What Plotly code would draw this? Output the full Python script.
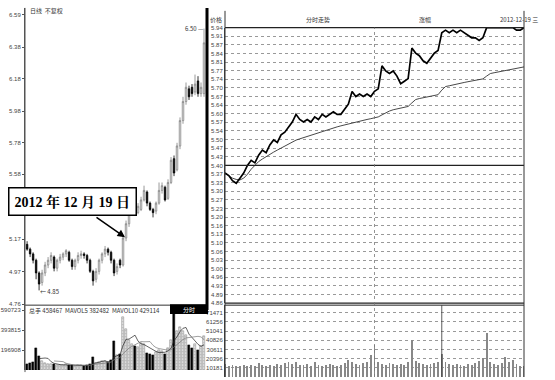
import plotly.graph_objects as go
import pandas as pd

# ---------------- Left: daily candles ----------------
day_idx = list(range(60))
opens = [5.14, 5.11, 5.08, 5.04, 4.96, 4.90, 4.96, 5.01, 5.04, 5.06,
         4.99, 5.04, 5.06, 5.08, 5.09, 5.04, 5.00, 5.04, 5.07, 5.08,
         5.07, 5.04, 4.97, 4.92, 4.97, 5.04, 5.08, 5.11, 5.09, 5.04,
         4.97, 5.04, 5.01, 5.18, 5.27, 5.35, 5.37, 5.34, 5.36, 5.42,
         5.47, 5.40, 5.36, 5.35, 5.40, 5.48, 5.50, 5.43, 5.53, 5.68,
         5.61, 5.76, 5.92, 6.04, 6.12, 6.13, 6.10, 6.17, 6.09, 6.09]
highs = [5.16, 5.12, 5.09, 5.05, 4.97, 4.98, 5.03, 5.06, 5.09, 5.07,
         5.05, 5.08, 5.09, 5.11, 5.10, 5.05, 5.05, 5.09, 5.10, 5.09,
         5.08, 5.05, 4.98, 4.99, 5.05, 5.09, 5.13, 5.12, 5.10, 5.05,
         5.02, 5.05, 5.19, 5.29, 5.37, 5.40, 5.38, 5.40, 5.44, 5.51,
         5.48, 5.41, 5.37, 5.41, 5.53, 5.53, 5.51, 5.55, 5.69, 5.70,
         5.78, 5.94, 6.07, 6.16, 6.14, 6.15, 6.21, 6.20, 6.16, 6.50]
lows = [5.10, 5.06, 5.02, 4.92, 4.85, 4.88, 4.94, 4.99, 5.02, 4.97,
        4.97, 5.02, 5.04, 5.06, 5.03, 4.98, 4.98, 5.02, 5.05, 5.05,
        5.02, 4.96, 4.88, 4.90, 4.95, 5.02, 5.06, 5.07, 5.02, 4.94,
        4.95, 4.99, 5.00, 5.16, 5.25, 5.33, 5.32, 5.33, 5.35, 5.41,
        5.38, 5.35, 5.31, 5.33, 5.39, 5.46, 5.41, 5.42, 5.52, 5.57,
        5.60, 5.74, 5.90, 6.02, 6.05, 6.07, 6.08, 6.07, 6.07, 6.07]
closes = [5.11, 5.08, 5.04, 4.96, 4.89, 4.96, 5.01, 5.04, 5.07, 4.99,
          5.04, 5.06, 5.08, 5.10, 5.04, 5.00, 5.04, 5.07, 5.08, 5.07,
          5.04, 4.97, 4.91, 4.97, 5.04, 5.08, 5.11, 5.09, 5.04, 4.96,
          5.00, 5.01, 5.18, 5.27, 5.35, 5.37, 5.34, 5.38, 5.42, 5.48,
          5.40, 5.36, 5.34, 5.40, 5.48, 5.51, 5.42, 5.53, 5.67, 5.59,
          5.76, 5.92, 6.04, 6.13, 6.07, 6.09, 6.15, 6.09, 6.13, 6.41]
day_vols = [60000, 70000, 80000, 216000, 140000, 90000, 70000, 60000, 55000, 60000,
            50000, 45000, 50000, 55000, 45000, 50000, 40000, 45000, 50000, 40000,
            45000, 60000, 130000, 70000, 80000, 90000, 85000, 80000, 100000, 285000,
            150000, 160000, 520000, 400000, 300000, 260000, 240000, 230000, 270000, 260000,
            170000, 160000, 150000, 180000, 200000, 190000, 160000, 220000, 300000, 580000,
            380000, 420000, 380000, 340000, 250000, 220000, 260000, 200000, 240000, 330000]
# the 5.38 label is hidden behind the date callout in the reference
left_price_ticks = [6.587, 6.382, 6.184, 5.979, 5.780, 5.582, 5.173, 4.968, 4.763]
left_price_labels = ["6.59", "6.38", "6.18", "5.98", "5.78", "5.58", "5.17", "4.97", "4.76"]
left_vol_ticks = [196908, 393815, 590723]
left_vol_labels = ["196908", "393815", "590723"]

# ---------------- Right: intraday (3-minute samples) ----------------
minutes = list(range(0, 241, 3))
intraday_price = [5.37, 5.36, 5.34, 5.33, 5.35, 5.37, 5.40, 5.42, 5.41, 5.44,
                  5.46, 5.45, 5.48, 5.50, 5.49, 5.52, 5.53, 5.55, 5.57, 5.60,
                  5.58, 5.57, 5.58, 5.57, 5.59, 5.58, 5.60, 5.59, 5.60, 5.61,
                  5.60, 5.60, 5.62, 5.64, 5.69, 5.67, 5.68, 5.67, 5.68, 5.67,
                  5.69, 5.70, 5.79, 5.77, 5.76, 5.77, 5.75, 5.72, 5.73, 5.74,
                  5.86, 5.84, 5.83, 5.81, 5.80, 5.82, 5.84, 5.85, 5.92, 5.93,
                  5.92, 5.93, 5.92, 5.93, 5.92, 5.91, 5.90, 5.90, 5.89, 5.90,
                  5.94, 5.94, 5.94, 5.94, 5.94, 5.94, 5.94, 5.94, 5.93, 5.93, 5.94]
intraday_avg = [5.37, 5.36, 5.35, 5.345, 5.343, 5.35, 5.365, 5.385, 5.40, 5.415,
                5.425, 5.435, 5.445, 5.452, 5.46, 5.468, 5.476, 5.484, 5.492, 5.499,
                5.504, 5.509, 5.514, 5.519, 5.524, 5.529, 5.534, 5.539, 5.543, 5.547,
                5.551, 5.555, 5.559, 5.563, 5.567, 5.571, 5.574, 5.577, 5.58, 5.583,
                5.586, 5.59, 5.598, 5.606, 5.613, 5.618, 5.622, 5.625, 5.628, 5.631,
                5.645, 5.658, 5.662, 5.665, 5.668, 5.671, 5.674, 5.677, 5.695, 5.709,
                5.712, 5.716, 5.719, 5.722, 5.725, 5.728, 5.73, 5.733, 5.736, 5.739,
                5.75, 5.76, 5.763, 5.766, 5.768, 5.771, 5.774, 5.777, 5.78, 5.783, 5.786]
intraday_vol = [14000, 12500, 13000, 12000, 12500, 13500, 12000, 13000, 12500, 15000,
                13000, 12000, 13500, 12500, 14000, 13000, 15500, 17000, 14500, 16000,
                13500, 13000, 14000, 12500, 16000, 13500, 12500, 13000, 14500, 13000,
                12500, 13500, 15000, 19000, 16500, 14000, 13500, 15000, 17000, 24000,
                36000, 16000, 14500, 13500, 15000, 14000, 13000, 14500, 13500, 17000,
                40500, 18000, 15000, 14000, 13500, 14500, 15500, 17000, 25000, 16000,
                14500, 13500, 14000, 13000, 12500, 14000, 13500, 15000, 17500, 21000,
                49000, 17000, 14000, 13000, 15000, 22000, 16000, 19000, 14000, 12500, 12000]
prev_close = 5.40
price_labels = ["5.94", "5.91", "5.87", "5.84", "5.81", "5.77", "5.74", "5.70", "5.67", "5.64",
                "5.60", "5.57", "5.54", "5.50", "5.47", "5.43", "5.40", "5.37", "5.33", "5.30",
                "5.27", "5.23", "5.20", "5.16", "5.13", "5.10", "5.06", "5.03", "5.00", "4.96",
                "4.93", "4.89", "4.86"]
pct_labels = ["10.00%", "9.38%", "8.75%", "8.13%", "7.50%", "6.88%", "6.25%", "5.63%", "5.00%",
              "4.38%", "3.75%", "3.13%", "2.50%", "1.88%", "1.25%", "0.63%", "0.00%",
              "-0.63%", "-1.25%", "-1.88%", "-2.50%", "-3.13%", "-3.75%", "-4.38%", "-5.00%",
              "-5.63%", "-6.25%", "-6.88%", "-7.50%", "-8.13%", "-8.75%", "-9.38%", "-10.00%"]
right_vol_ticks = [71471, 61256, 51041, 40826, 30611, 20396, 10181]
right_vol_labels = ["71471", "61256", "51041", "40826", "30611", "20396", "10181"]

# ---------------- geometry helpers ----------------
W, H = 555, 380
def px(x):
    return x / W
def py(y):
    return (H - y) / H

step = 0.03375
price_tickvals = [prev_close + k * step for k in range(16, -17, -1)]
pct_tickvals = [k * 0.625 for k in range(16, -17, -1)]

TICKFONT = dict(family="Liberation Sans, Arial", size=6, color="#444")

fig = go.Figure()

# left candles
fig.add_trace(go.Candlestick(
    x=day_idx, open=opens, high=highs, low=lows, close=closes,
    increasing=dict(line=dict(color="#808080", width=0.8), fillcolor="white"),
    decreasing=dict(line=dict(color="black", width=0.8), fillcolor="black"),
    whiskerwidth=0, xaxis="x", yaxis="y", showlegend=False))

up_x = [i for i in day_idx if closes[i] >= opens[i]]
dn_x = [i for i in day_idx if closes[i] < opens[i]]
fig.add_trace(go.Bar(x=up_x, y=[day_vols[i] for i in up_x], xaxis="x2", yaxis="y2",
                     marker=dict(color="white", line=dict(color="#888", width=0.6),
                                 pattern=dict(shape=".", fgcolor="#888", size=3, solidity=0.4)),
                     width=0.75, showlegend=False))
fig.add_trace(go.Bar(x=dn_x, y=[day_vols[i] for i in dn_x], xaxis="x2", yaxis="y2",
                     marker=dict(color="black", line=dict(color="black", width=0.5)),
                     width=0.75, showlegend=False))
vs = pd.Series(day_vols)
fig.add_trace(go.Scatter(x=day_idx, y=vs.rolling(5).mean(), mode="lines", xaxis="x2", yaxis="y2",
                         line=dict(color="#222", width=0.7), showlegend=False))
fig.add_trace(go.Scatter(x=day_idx, y=vs.rolling(10).mean(), mode="lines", xaxis="x2", yaxis="y2",
                         line=dict(color="#777", width=0.7), showlegend=False))

# right intraday
fig.add_trace(go.Scatter(x=minutes, y=intraday_avg, mode="lines", xaxis="x3", yaxis="y3",
                         line=dict(color="#333", width=0.9), showlegend=False))
fig.add_trace(go.Scatter(x=minutes, y=intraday_price, mode="lines", xaxis="x3", yaxis="y3",
                         line=dict(color="black", width=1.7), showlegend=False))
fig.add_trace(go.Bar(x=minutes, y=intraday_vol, xaxis="x4", yaxis="y5",
                     marker=dict(color="#888", line=dict(width=0)), width=0.7, showlegend=False))

left_dom = [px(25), px(207)]
right_dom = [px(225), px(524)]

fig.update_layout(
    width=W, height=H, margin=dict(l=0, r=0, t=0, b=0),
    paper_bgcolor="white", plot_bgcolor="white", bargap=0,
    xaxis=dict(domain=left_dom, range=[-0.7, 60], anchor="y", visible=False,
               rangeslider=dict(visible=False)),
    yaxis=dict(domain=[py(307), py(5)], range=[4.757, 6.630], anchor="x",
               tickvals=left_price_ticks, ticktext=left_price_labels, tickfont=TICKFONT,
               showgrid=False, zeroline=False, showline=True, linecolor="#555", linewidth=1,
               ticks="outside", ticklen=2, tickcolor="#555"),
    xaxis2=dict(domain=left_dom, range=[-0.7, 60], anchor="y2", visible=False, matches="x"),
    yaxis2=dict(domain=[py(373), py(307)], range=[0, 640000], anchor="x2",
                tickvals=left_vol_ticks, ticktext=left_vol_labels, tickfont=TICKFONT,
                showgrid=False, zeroline=False, showline=True, linecolor="#555", linewidth=1,
                ticks="outside", ticklen=2, tickcolor="#555"),
    xaxis3=dict(domain=right_dom, range=[0, 240], anchor="y3", visible=False),
    yaxis3=dict(domain=[py(305), py(25)], range=[4.86, 5.94], anchor="x3",
                tickvals=price_tickvals, ticktext=price_labels, tickfont=TICKFONT,
                showgrid=True, gridcolor="#999", griddash="dot", gridwidth=0.6,
                zeroline=False, showline=True, linecolor="#444", linewidth=1),
    yaxis4=dict(overlaying="y3", side="right", anchor="x3", range=[-10, 10],
                tickvals=pct_tickvals, ticktext=pct_labels, tickfont=TICKFONT,
                showgrid=False, zeroline=False, showline=False),
    xaxis4=dict(domain=right_dom, range=[0, 240], anchor="y5", visible=False),
    yaxis5=dict(domain=[0, py(307)], range=[0, 80000], anchor="x4",
                tickvals=right_vol_ticks, ticktext=right_vol_labels, tickfont=TICKFONT,
                showgrid=True, gridcolor="#999", griddash="dot", gridwidth=0.6,
                zeroline=False, showline=True, linecolor="#444", linewidth=1),
)

shapes = []
# left panel borders
shapes.append(dict(type="line", xref="paper", yref="paper", x0=px(25), x1=px(207), y0=py(307), y1=py(307),
                   line=dict(color="#333", width=1)))
shapes.append(dict(type="line", xref="paper", yref="paper", x0=px(207), x1=px(207), y0=py(5), y1=py(312),
                   line=dict(color="black", width=3)))
shapes.append(dict(type="line", xref="paper", yref="paper", x0=px(25), x1=px(25), y0=py(5), y1=py(375),
                   line=dict(color="#555", width=1)))
# black tag box in left volume panel
shapes.append(dict(type="rect", xref="paper", yref="paper", x0=px(170), x1=px(208), y0=py(316), y1=py(306),
                   fillcolor="black", line=dict(width=0)))
# right panel key horizontal lines
for yy, wdt in [(25, 1.2), (165, 1.2), (305, 1.2)]:
    shapes.append(dict(type="line", xref="paper", yref="paper", x0=px(225), x1=px(524), y0=py(yy), y1=py(yy),
                       line=dict(color="#222", width=wdt)))
shapes.append(dict(type="line", xref="paper", yref="paper", x0=px(225), x1=px(524), y0=py(307), y1=py(307),
                   line=dict(color="#222", width=1)))
# right axis vertical line
shapes.append(dict(type="line", xref="paper", yref="paper", x0=px(524), x1=px(524), y0=py(8), y1=py(380),
                   line=dict(color="#333", width=1)))
# left axis of right panel extended
shapes.append(dict(type="line", xref="paper", yref="paper", x0=px(225), x1=px(225), y0=py(8), y1=py(380),
                   line=dict(color="#333", width=1)))
# midday dashed line
shapes.append(dict(type="line", xref="x3", yref="paper", x0=120, x1=120, y0=py(380), y1=py(25),
                   line=dict(color="#777", width=0.8, dash="dot")))
# cursor line in volume area
shapes.append(dict(type="line", xref="x3", yref="paper", x0=174, x1=174, y0=py(380), y1=py(307),
                   line=dict(color="#333", width=0.8)))
fig.update_layout(shapes=shapes)

SMALL = dict(family="Noto Sans CJK SC, Liberation Sans", size=6, color="#333")
ann = []
ann.append(dict(text="日线  不复权", x=px(28), y=py(8), xref="paper", yref="paper",
                showarrow=False, xanchor="left", yanchor="middle", font=SMALL))
ann.append(dict(text="6.50 —", x=px(206), y=py(26), xref="paper", yref="paper",
                showarrow=False, xanchor="right", yanchor="middle", font=SMALL))
ann.append(dict(text="← 4.85", x=px(38), y=py(293), xref="paper", yref="paper",
                showarrow=False, xanchor="left", yanchor="middle", font=SMALL))
ann.append(dict(text="总手 458467  MAVOL5 382482  MAVOL10 429114", x=px(27), y=py(312), xref="paper",
                yref="paper", showarrow=False, xanchor="left", yanchor="middle", font=SMALL))
ann.append(dict(text="分时", x=px(189), y=py(311), xref="paper", yref="paper",
                showarrow=False, xanchor="center", yanchor="middle",
                font=dict(family="Noto Sans CJK SC", size=6, color="white")))
ann.append(dict(text="<b>2012 年 12 月 19 日</b>", x=px(72), y=py(202), xref="paper", yref="paper",
                showarrow=False, xanchor="center", yanchor="middle",
                font=dict(family="Liberation Serif, Noto Serif CJK SC, Noto Sans CJK SC", size=14, color="black"),
                bgcolor="white", bordercolor="black", borderwidth=1.5, borderpad=5))
ann.append(dict(text="", x=px(125), y=py(238), xref="paper", yref="paper",
                showarrow=True, ax=-30, ay=-21, axref="pixel", ayref="pixel",
                arrowhead=2, arrowsize=1, arrowwidth=1.5, arrowcolor="black"))
# right panel header
ann.append(dict(text="价格", x=px(208), y=py(17), xref="paper", yref="paper",
                showarrow=False, xanchor="left", yanchor="middle", font=SMALL))
ann.append(dict(text="分时走势", x=px(318), y=py(17), xref="paper", yref="paper",
                showarrow=False, xanchor="center", yanchor="middle", font=SMALL))
ann.append(dict(text="涨幅", x=px(425), y=py(17), xref="paper", yref="paper",
                showarrow=False, xanchor="center", yanchor="middle", font=SMALL))
ann.append(dict(text="2012-12-19 三", x=px(540), y=py(17), xref="paper", yref="paper",
                showarrow=False, xanchor="right", yanchor="middle", font=SMALL))
fig.update_layout(annotations=ann)

fig.write_html("out.html")
